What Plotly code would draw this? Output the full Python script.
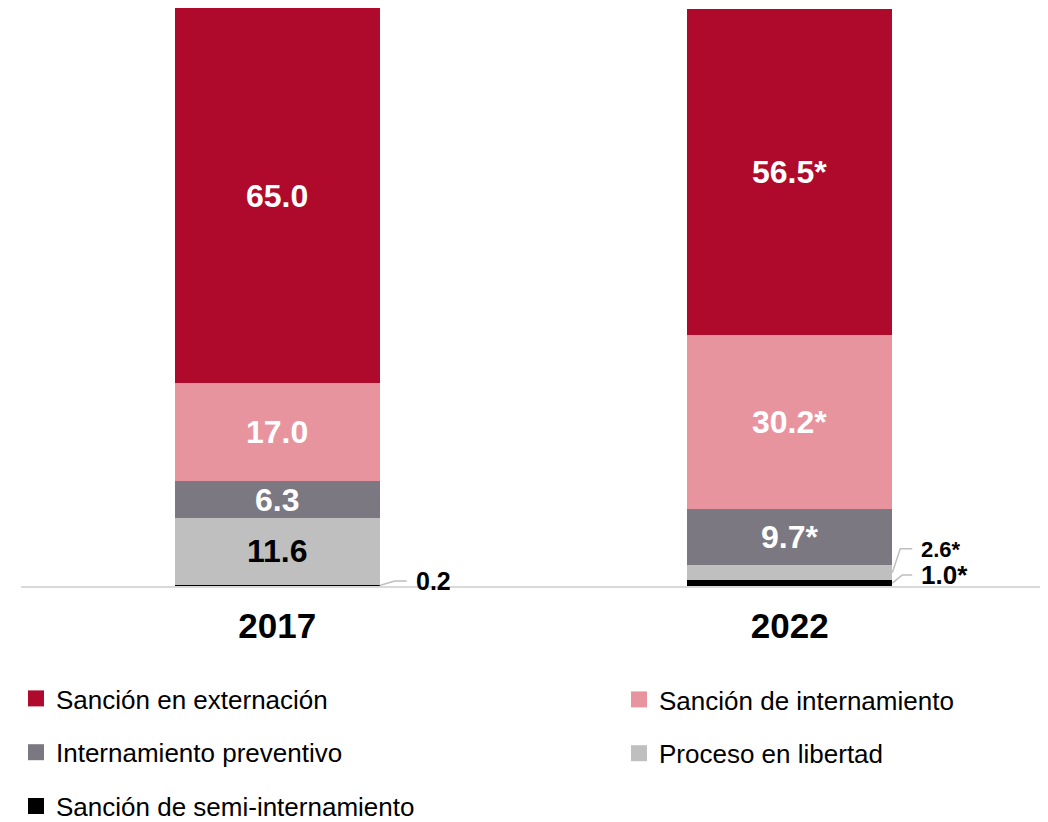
import plotly.graph_objects as go

years = ["2017", "2022"]
series = ["Sanción de semi-internamiento", "Proceso en libertad", "Internamiento preventivo",
          "Sanción de internamiento", "Sanción en externación"]
values_2017 = [0.2, 11.6, 6.3, 17.0, 65.0]
values_2022 = [1.0, 2.6, 9.7, 30.2, 56.5]
significant_2022 = [True, True, True, True, True]
colors = ["#000000", "#BFBFBF", "#7B7881", "#E8949F", "#AF0A2C"]
label_colors = ["#000000", "#000000", "#FFFFFF", "#FFFFFF", "#FFFFFF"]
# legend layout: which series go in the left and right legend columns (top to bottom)
legend_left = ["Sanción en externación", "Internamiento preventivo", "Sanción de semi-internamiento"]
legend_right = ["Sanción de internamiento", "Proceso en libertad"]

FONT = "Liberation Sans, Arial, sans-serif"

data = [values_2017, values_2022]
flags = [[False] * len(series), significant_2022]
xpos = list(range(len(years)))
bar_w = 0.4

W, H = 1048, 822
# plot area in figure pixels (page shows figure offset by the 8px body margin)
PLOT_L, PLOT_R, PLOT_T, PLOT_B = 13, 1038, 0, 578
YMAX = 100.1

fig = go.Figure()
for k, name in enumerate(series):
    fig.add_trace(go.Bar(
        x=xpos, y=[data[i][k] for i in xpos], width=bar_w,
        marker=dict(color=colors[k], line=dict(width=0)),
        showlegend=False, hoverinfo="skip", name=name))

# legend proxies (larger square symbols), split across two legend columns
for lg, names in [("legend", legend_left), ("legend2", legend_right)]:
    for name in names:
        k = series.index(name)
        fig.add_trace(go.Scatter(
            x=[None], y=[None], mode="markers", name=name, legend=lg,
            legendgroup=name,
            marker=dict(symbol="square", size=16, color=colors[k])))

annotations = []
px_x = 2.0 / (PLOT_R - PLOT_L)
px_y = YMAX / (PLOT_B - PLOT_T)
for i in xpos:
    base = 0.0
    for k in range(len(series)):
        v = data[i][k]
        txt = f"{v:.1f}" + ("*" if flags[i][k] else "")
        mid = base + v / 2
        if v >= 5:
            annotations.append(dict(x=i, y=mid, text=f"<b>{txt}</b>", showarrow=False,
                                    font=dict(family=FONT, size=32, color=label_colors[k])))
        base += v


def leader(i, k, dx1, dy_px, dx2, size):
    v = data[i][k]
    base = sum(data[i][:k])
    mid = base + v / 2
    xe = i + bar_w / 2
    yl = mid + dy_px * px_y
    fig.add_trace(go.Scatter(
        x=[xe, xe + dx1 * px_x, xe + dx2 * px_x], y=[mid, yl, yl],
        mode="lines", line=dict(color="#BFBFBF", width=1.5),
        showlegend=False, hoverinfo="skip", cliponaxis=False))
    txt = f"{v:.1f}" + ("*" if flags[i][k] else "")
    annotations.append(dict(x=xe + (dx2 + 7) * px_x, y=yl, text=f"<b>{txt}</b>",
                            xanchor="left", showarrow=False, height=int(size * 0.85),
                            font=dict(family=FONT, size=size, color="#000000")))


leader(0, 0, 15, 4.5, 27, 25)
leader(1, 1, 8, 24, 20, 22)
leader(1, 0, 10, 8, 20, 26)

legend_common = dict(orientation="v", xanchor="left",
                     traceorder="grouped", tracegroupgap=17,
                     font=dict(family=FONT, size=26, color="#000000"),
                     itemclick=False, itemdoubleclick=False,
                     bgcolor="rgba(0,0,0,0)")

fig.update_layout(
    width=W, height=H,
    margin=dict(l=0, r=0, t=PLOT_T, b=0),
    paper_bgcolor="white", plot_bgcolor="white",
    barmode="stack",
    annotations=annotations,
    xaxis=dict(domain=[PLOT_L / W, PLOT_R / W], range=[-0.5, 1.5],
               tickvals=xpos, ticktext=years, showgrid=False,
               zeroline=False, showline=True, linecolor="#D9D9D9", linewidth=2,
               ticks="", ticklabelstandoff=8, automargin=False,
               tickfont=dict(family=FONT, size=35, color="#000000", weight="bold"),
               fixedrange=True),
    yaxis=dict(domain=[(H - PLOT_B) / (H - PLOT_T), 1], range=[0, YMAX],
               visible=False, fixedrange=True),
    legend=dict(x=8 / W, y=0, yanchor="bottom", **legend_common),
    legend2=dict(x=611 / W, y=(H - 668) / H, yanchor="top", **legend_common),
    showlegend=True,
)

fig.write_html("out.html")
